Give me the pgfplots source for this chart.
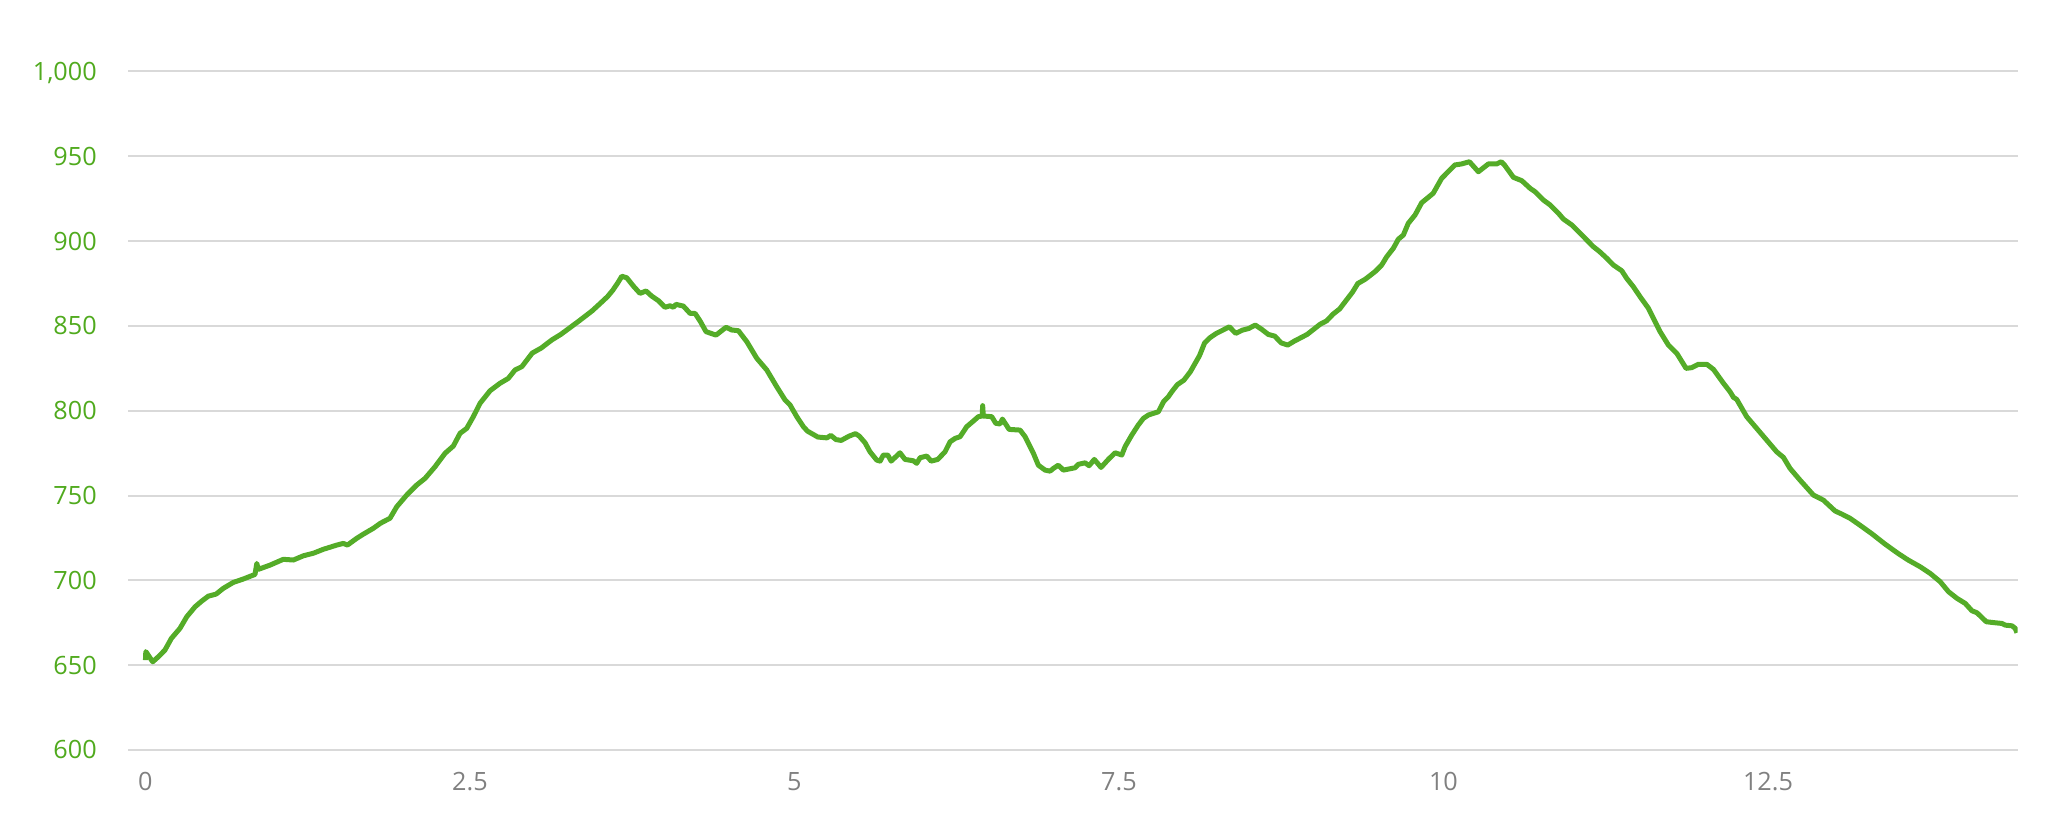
\documentclass[border=0pt]{standalone}
\usepackage{fontspec}
\setmainfont{Open Sans}
\usepackage{pgfplots}
\pgfplotsset{compat=1.18}
\definecolor{lineg}{RGB}{84,172,40}
\definecolor{labg}{RGB}{80,170,30}
\definecolor{gridc}{RGB}{217,217,217}
\definecolor{xlab}{RGB}{128,128,128}
\begin{document}
\begin{tikzpicture}
\path[use as bounding box] (0,0) rectangle (1031bp,411bp);
\begin{axis}[
  at={(64.15bp,36bp)}, anchor=south west,
  scale only axis, width=944.7bp, height=339.25bp,
  xmin=-0.132, xmax=14.424, ymin=600, ymax=1000,
  axis line style={draw=none},
  major tick length=0pt,
  xtick={0,2.5,5,7.5,10,12.5},
  xticklabels={0,2.5,5,7.5,10,12.5},
  ytick={600,650,700,750,800,850,900,950,1000},
  yticklabels={600,650,700,750,800,850,900,950,{1,000}},
  ymajorgrids, grid style={gridc, line width=1bp},
  tick label style={font=\fontsize{12.6bp}{15bp}\selectfont, inner sep=0pt},
  yticklabel style={anchor=base east, xshift=-15.6bp, yshift=-4.5bp, text=labg},
  xticklabel style={anchor=north, yshift=-10.85bp, text=xlab},
]
\addplot[lineg, line width=2.5bp, line join=round, no marks] coordinates {
(0,653) (0.003,658) (0.056,652) (0.1,655) (0.15,658.9) (0.2,665.8) (0.266,671.7)
(0.318,678.5) (0.382,684.4) (0.434,687.8) (0.485,690.7) (0.544,691.9) (0.6,695.3)
(0.677,698.8) (0.754,700.8) (0.844,703.5) (0.858,710) (0.87,706.5) (0.96,709)
(1.062,712.4) (1.14,712) (1.217,714.5) (1.294,716) (1.37,718.3) (1.474,720.8)
(1.525,721.8) (1.556,720.8) (1.628,724.8) (1.68,727.3) (1.756,730.7) (1.807,733.5)
(1.833,734.6) (1.884,736.6) (1.936,743.4) (2.013,750.3) (2.09,756.2) (2.154,760.1)
(2.231,767) (2.308,774.9) (2.372,779.2) (2.424,786.7) (2.475,789.6) (2.526,796.5)
(2.578,804.4) (2.655,811.8) (2.732,816.2) (2.796,819.1) (2.847,824) (2.9,826)
(2.98,834) (3.05,837) (3.13,841.7) (3.2,845) (3.28,849.5) (3.35,853.5) (3.44,858.8)
(3.5,863) (3.56,867.3) (3.6,871) (3.64,875.5) (3.67,879.3) (3.708,878.4)
(3.759,873.5) (3.81,869.2) (3.857,870.6) (3.9,867.6) (3.952,864.9) (4.003,861)
(4.042,861.9) (4.067,861) (4.088,862.7) (4.144,861.7) (4.196,857.4) (4.234,857.4)
(4.273,852.9) (4.319,846.6) (4.396,844.6) (4.473,849.2) (4.517,847.6) (4.568,847.2)
(4.633,840.7) (4.71,830.9) (4.787,824) (4.864,814.1) (4.928,806.3) (4.966,803.4)
(5.018,796.5) (5.069,790.6) (5.1,788) (5.18,784.5) (5.25,784) (5.28,785.5)
(5.32,783) (5.36,782.5) (5.42,785) (5.47,786.5) (5.5,785) (5.544,781.1)
(5.582,775.8) (5.634,770.9) (5.66,770.3) (5.685,773.9) (5.719,773.9) (5.745,770.3)
(5.813,775.2) (5.852,771.3) (5.916,770.5) (5.942,769) (5.968,772.3) (6.019,773.3)
(6.053,770.3) (6.104,771.3) (6.16,775.8) (6.199,781.7) (6.238,783.7) (6.276,784.7)
(6.327,790.6) (6.378,793.9) (6.417,796.5) (6.446,796.9) (6.45,803) (6.455,796.9)
(6.52,796.5) (6.551,792.6) (6.584,792.2) (6.602,795.1) (6.654,789) (6.738,788.6)
(6.777,784.7) (6.841,774.9) (6.879,767.9) (6.931,765) (6.969,764.4) (6.995,766)
(7.033,767.9) (7.072,765) (7.162,766.4) (7.187,768.4) (7.239,769.3) (7.27,767.6)
(7.31,771.3) (7.362,766.6) (7.418,771.3) (7.47,775.2) (7.522,773.9) (7.547,778.8)
(7.599,785.7) (7.649,791.6) (7.688,795.5) (7.727,797.5) (7.804,799.4) (7.843,805.3)
(7.881,808.3) (7.907,811.2) (7.95,815.4) (8.0,818) (8.05,823) (8.12,832.4)
(8.16,840) (8.2,843) (8.25,845.6) (8.3,847.5) (8.35,849.5) (8.4,845.6) (8.45,847.5)
(8.5,848.5) (8.55,850.5) (8.6,848) (8.65,845) (8.7,844) (8.75,840) (8.8,838.7)
(8.85,841) (8.9,843) (8.95,845) (9.0,848) (9.05,851) (9.1,853) (9.15,857)
(9.2,860) (9.25,865) (9.3,870) (9.34,875) (9.397,877.5) (9.473,882) (9.524,885.9)
(9.563,890.8) (9.614,895.8) (9.652,901.1) (9.691,903.6) (9.729,910.5) (9.781,915.4)
(9.832,922.6) (9.921,928.2) (9.986,937) (10.088,944.9) (10.14,945.5) (10.2,946.8)
(10.269,940.9) (10.346,945.5) (10.41,945.5) (10.445,946.8) (10.47,944.9)
(10.539,937.6) (10.604,935.6) (10.668,931.1) (10.706,929.1) (10.77,924.2)
(10.822,921.3) (10.886,916.4) (10.924,913) (10.989,909.5) (11.066,903.6)
(11.155,896.7) (11.2,894) (11.258,889.9) (11.309,885.9) (11.374,882.5) (11.412,878)
(11.463,873.1) (11.515,867.2) (11.579,860.4) (11.63,852.5) (11.669,846.6)
(11.733,838.7) (11.798,833.8) (11.869,825) (11.913,825.4) (11.964,827.4)
(12.028,827.4) (12.08,824.4) (12.157,816.2) (12.208,811.2) (12.234,807.9)
(12.259,806.7) (12.336,796.5) (12.413,789.6) (12.49,782.7) (12.567,775.8)
(12.619,772.5) (12.67,766) (12.747,759.1) (12.85,750.3) (12.927,747.3)
(13.017,740.9) (13.068,739.1) (13.132,736.6) (13.2,733) (13.3,727.5) (13.4,721.5)
(13.5,716) (13.58,712) (13.673,708) (13.75,704.1) (13.827,699.2) (13.891,693.3)
(13.956,689.4) (14.02,686.4) (14.071,682.1) (14.11,680.9) (14.182,675.6)
(14.251,675) (14.303,674.6) (14.328,673.6) (14.38,673.2) (14.405,671.7) (14.418,669.1)
};
\end{axis}
\end{tikzpicture}
\end{document}
